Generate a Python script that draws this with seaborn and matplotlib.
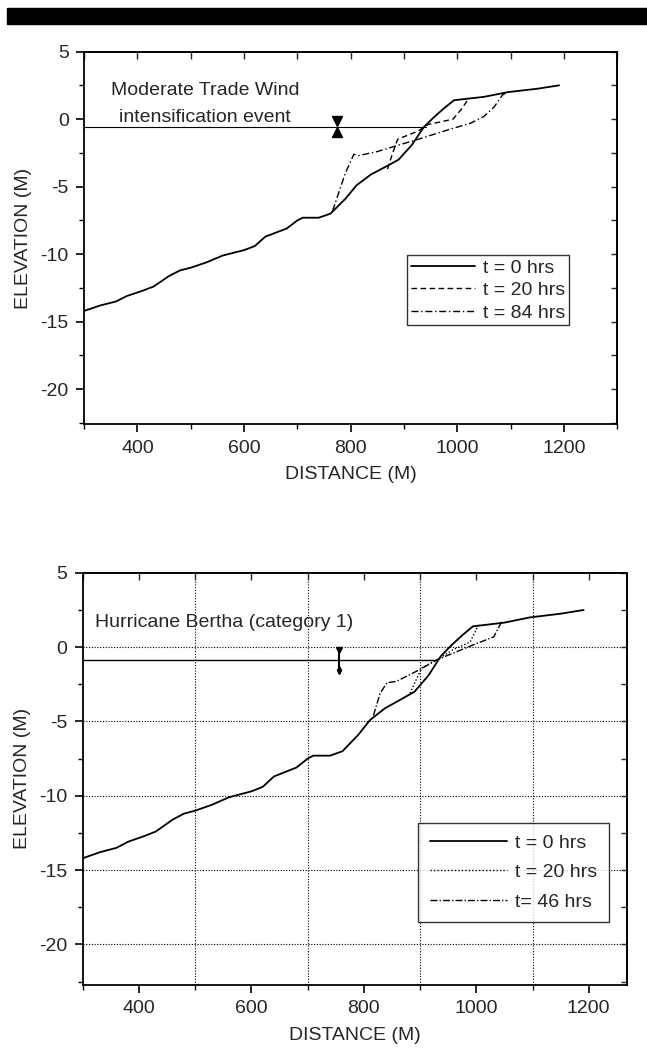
'''
Beach profile change plots: moderate trade wind event vs Hurricane Bertha.
'''
import numpy as np
import pandas as pd
import seaborn as sns
import matplotlib.pyplot as plt
from matplotlib.patches import Rectangle
from matplotlib.ticker import MultipleLocator

# ---- data ----
# initial profile (same survey in both panels)
dist_t0 = [300, 330, 360, 380, 410, 430, 445, 460, 480, 500, 530, 560, 600, 620, 640, 660,
           680, 700, 710, 740, 762, 790, 811, 838, 862, 890, 915, 937, 955, 975, 994, 1050,
           1095, 1150, 1191]
elev_t0 = [-14.2, -13.8, -13.5, -13.1, -12.7, -12.4, -12.0, -11.6, -11.2, -11.0, -10.6, -10.1,
           -9.7, -9.4, -8.7, -8.4, -8.1, -7.5, -7.3, -7.3, -7.0, -5.9, -4.9, -4.1, -3.6, -3.0,
           -1.9, -0.6, 0.1, 0.8, 1.4, 1.65, 2.0, 2.25, 2.5]

# moderate trade wind event
dist_tw20 = [869, 878, 888, 900, 926, 945, 969, 992, 1007, 1022]
elev_tw20 = [-3.7, -2.6, -1.5, -1.3, -0.9, -0.4, -0.2, 0.0, 0.7, 1.55]
dist_tw84 = [766, 778, 790, 806, 815, 850, 875, 926, 982, 1025, 1050, 1069, 1085, 1090]
elev_tw84 = [-6.8, -5.4, -4.0, -2.6, -2.7, -2.4, -2.1, -1.5, -0.8, -0.3, 0.2, 0.9, 1.8, 1.9]
tw_water_level = -0.55
tw_water_x = [300, 941]
tw_marker_x = 775

# Hurricane Bertha
dist_hb20 = [882, 893, 903, 930, 959, 989, 1004]
elev_hb20 = [-3.1, -2.2, -1.4, -0.85, -0.16, 0.34, 1.5]
dist_hb46 = [817, 829, 841, 858, 900, 930, 995, 1031, 1045]
elev_hb46 = [-4.6, -3.1, -2.4, -2.3, -1.5, -0.85, 0.16, 0.69, 1.7]
hb_water_level = -0.85
hb_water_x = [300, 930]
hb_marker_x = 756

labels_tw = ['t = 0 hrs', 't = 20 hrs', 't = 84 hrs']
labels_hb = ['t = 0 hrs', 't = 20 hrs', 't= 46 hrs']

sns.set_style("ticks")
plt.rcParams['font.family'] = ['Liberation Sans', 'DejaVu Sans']
plt.rcParams['axes.unicode_minus'] = False
plt.rcParams['xtick.labelsize'] = 14
plt.rcParams['ytick.labelsize'] = 14

fig = plt.figure(figsize=(6.47, 10.53), dpi=100)
fig.patches.append(Rectangle((7 / 647, 1 - 24 / 1053), 640 / 647, 16 / 1053,
                             transform=fig.transFigure, color='black'))

ax1 = fig.add_axes([0.130, 0.597, 0.824, 0.354])
ax2 = fig.add_axes([0.128, 0.065, 0.841, 0.391])


def style_axis(ax, xmax, ymin):
    ax.set_xlim(300, xmax)
    ax.set_ylim(ymin, 5)
    ax.xaxis.set_major_locator(MultipleLocator(200))
    ax.xaxis.set_minor_locator(MultipleLocator(100))
    ax.yaxis.set_major_locator(MultipleLocator(5))
    ax.yaxis.set_minor_locator(MultipleLocator(2.5))
    ax.tick_params(which='major', direction='out', length=6, width=1.2, color='black',
                   top=False, right=False, pad=5)
    ax.tick_params(which='minor', direction='out', length=3.5, width=1.0, color='black',
                   top=False, right=False)
    for s in ax.spines.values():
        s.set_linewidth(1.3)
        s.set_color('black')
    # inward ticks along top and right spine
    sec = ax.secondary_xaxis('top')
    sec.xaxis.set_major_locator(MultipleLocator(100))
    sec.tick_params(direction='in', length=5, width=1.0, labeltop=False)
    sec.spines['top'].set_linewidth(1.3)
    secy = ax.secondary_yaxis('right')
    secy.yaxis.set_major_locator(MultipleLocator(2.5))
    secy.tick_params(direction='in', length=4, width=1.0, labelright=False)
    secy.spines['right'].set_linewidth(1.3)
    ax.set_xlabel('DISTANCE (M)', fontsize=14, labelpad=7)
    ax.set_ylabel('ELEVATION (M)', fontsize=14, labelpad=6)


def water_marker(ax, x, level, size):
    ax.plot([x], [level + 0.38], marker='v', color='black', markersize=size, linestyle='none')
    ax.plot([x], [level - 0.38], marker='^', color='black', markersize=size, linestyle='none')


# ---- top panel ----
sns.lineplot(x=dist_t0, y=elev_t0, ax=ax1, color='black', lw=1.3, sort=False,
             label=labels_tw[0])
sns.lineplot(x=dist_tw20, y=elev_tw20, ax=ax1, color='black', lw=1.0, sort=False,
             linestyle=(0, (4, 2.5)), label=labels_tw[1])
sns.lineplot(x=dist_tw84, y=elev_tw84, ax=ax1, color='black', lw=1.0, sort=False,
             linestyle=(0, (5, 2, 1, 2)), label=labels_tw[2])
ax1.plot(tw_water_x, [tw_water_level] * 2, color='black', lw=0.8)
water_marker(ax1, tw_marker_x, tw_water_level, 6.5)
ax1.text(0.227, 0.86, 'Moderate Trade Wind\nintensification event', transform=ax1.transAxes,
         ha='center', va='center', fontsize=14, linespacing=1.75)
style_axis(ax1, 1300, -22.6)
ax1.legend(loc='upper left', bbox_to_anchor=(0.606, 0.454), borderaxespad=0, fontsize=14,
           frameon=True, fancybox=False, edgecolor='black', handlelength=3.3,
           handletextpad=0.4, labelspacing=0.25, borderpad=0.2)
ax1.get_legend().get_frame().set_linewidth(1.0)

# ---- bottom panel ----
sns.lineplot(x=dist_t0, y=elev_t0, ax=ax2, color='black', lw=1.3, sort=False,
             label=labels_hb[0])
sns.lineplot(x=dist_hb20, y=elev_hb20, ax=ax2, color='black', lw=1.0, sort=False,
             linestyle=(0, (1, 1.5)), label=labels_hb[1])
sns.lineplot(x=dist_hb46, y=elev_hb46, ax=ax2, color='black', lw=1.0, sort=False,
             linestyle=(0, (5, 1.5, 1, 1.5)), label=labels_hb[2])
ax2.plot(hb_water_x, [hb_water_level] * 2, color='black', lw=1.0)
ax2.plot([hb_marker_x] * 2, [hb_water_level + 0.6, hb_water_level - 0.6], color='black', lw=1.5)
ax2.plot([hb_marker_x], [hb_water_level + 0.65], marker='v', color='black', markersize=5,
         linestyle='none')
ax2.plot([hb_marker_x], [hb_water_level - 0.7], marker='d', color='black', markersize=4,
         linestyle='none')
ax2.text(0.022, 0.879, 'Hurricane Bertha (category 1)', transform=ax2.transAxes,
         ha='left', va='center', fontsize=14)
style_axis(ax2, 1268, -22.7)
for gx in [500, 700, 900, 1100]:
    ax2.axvline(gx, color='black', lw=0.8, linestyle=(0, (1, 1.5)), zorder=0)
for gy in [0, -5, -10, -15, -20]:
    ax2.axhline(gy, color='black', lw=0.8, linestyle=(0, (1, 1.5)), zorder=0)
ax2.legend(loc='upper left', bbox_to_anchor=(0.616, 0.393), borderaxespad=0, fontsize=14,
           frameon=True, fancybox=False, edgecolor='black', handlelength=4.0,
           handletextpad=0.4, labelspacing=0.6, borderpad=0.6)
ax2.get_legend().get_frame().set_linewidth(1.0)

fig.savefig('out.png', dpi=100)
